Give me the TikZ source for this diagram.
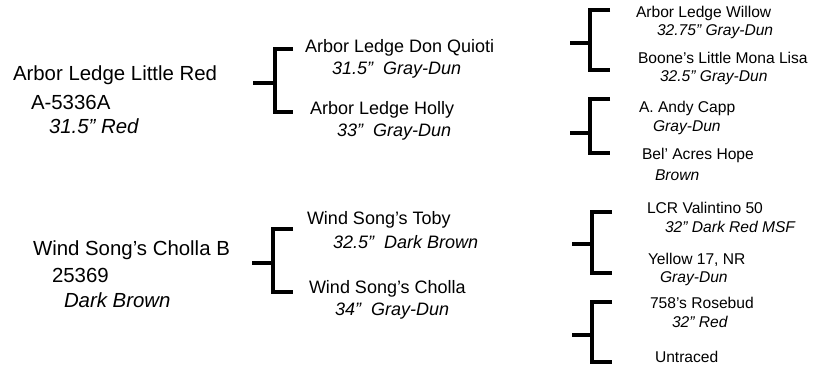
\documentclass[tikz,border=0pt]{standalone}
\usepackage{fontspec}
\setmainfont{Liberation Sans}
\begin{document}
\begin{tikzpicture}[x=1pt,y=-1pt,
  lbl/.style={anchor=west,inner sep=0pt,outer sep=0pt},
  g0/.style={lbl,font=\fontsize{20.4}{22}\selectfont},
  g1/.style={lbl,font=\fontsize{18}{20}\selectfont},
  g2/.style={lbl,font=\fontsize{15.6}{17}\selectfont},
  brk/.style={line width=3.6pt,line cap=butt,line join=miter}]
\useasboundingbox (0,0) rectangle (813,366);
% generation 0
\node[g0] (s0) at (13,75) {Arbor Ledge Little Red};
\node[g0] (s0r) at (31,102) {A-5336A};
\node[g0] (s0c) at (49,126) {\itshape 31.5" Red};
\node[g0] (d0) at (33,250) {Wind Song's Cholla B};
\node[g0] (d0r) at (52,275) {25369};
\node[g0] (d0c) at (64,300) {\itshape Dark Brown};
% generation 1
\node[g1] (ss) at (305,48) {Arbor Ledge Don Quioti};
\node[g1] (ssc) at (332,70) {\itshape 31.5"\ \ Gray-Dun};
\node[g1] (sd) at (310,110) {Arbor Ledge Holly};
\node[g1] (sdc) at (337,132) {\itshape 33"\ \ Gray-Dun};
\node[g1] (ds) at (307,220) {Wind Song's Toby};
\node[g1] (dsc) at (333,242) {\itshape 32.5"\ \ Dark Brown};
\node[g1] (dd) at (309,289) {Wind Song's Cholla};
\node[g1] (ddc) at (335,311) {\itshape 34"\ \ Gray-Dun};
% generation 2
\node[g2] (sss) at (636,13) {Arbor Ledge Willow};
\node[g2] (sssc) at (657,32) {\itshape 32.75" Gray-Dun};
\node[g2] (ssd) at (638,58) {Boone's Little Mona Lisa};
\node[g2] (ssdc) at (660,78) {\itshape 32.5" Gray-Dun};
\node[g2] (sds) at (639,108) {A. Andy Capp};
\node[g2] (sdsc) at (653,128) {\itshape Gray-Dun};
\node[g2] (sdd) at (642,155) {Bel' Acres Hope};
\node[g2] (sddc) at (655,175) {\itshape Brown};
\node[g2] (dss) at (647,208) {LCR Valintino 50};
\node[g2] (dssc) at (665,227) {\itshape 32" Dark Red MSF};
\node[g2] (dsd) at (648,260) {Yellow 17, NR};
\node[g2] (dsdc) at (660,279) {\itshape Gray-Dun};
\node[g2] (dds) at (650,303) {758's Rosebud};
\node[g2] (ddsc) at (672,322) {\itshape 32" Red};
\node[g2] (ddd) at (655,357) {Untraced};
% bracket coordinates
\coordinate (a1) at (253,83);  \coordinate (a1t) at (293,49);  \coordinate (a1b) at (293,112);
\coordinate (a2) at (252,263); \coordinate (a2t) at (293,229); \coordinate (a2b) at (293,292);
\coordinate (b1) at (570,43);  \coordinate (b1t) at (610,10);  \coordinate (b1b) at (610,70);
\coordinate (b2) at (570,133); \coordinate (b2t) at (610,99);  \coordinate (b2b) at (610,153);
\coordinate (b3) at (572,244); \coordinate (b3t) at (612,212); \coordinate (b3b) at (612,273);
\coordinate (b4) at (572,335); \coordinate (b4t) at (612,302); \coordinate (b4b) at (612,362);
% brackets
\draw[brk] (a1) -- (275,83);
\draw[brk] (a1t) -| (275,112) -- (a1b);
\draw[brk] (a2) -- (273,263);
\draw[brk] (a2t) -| (273,292) -- (a2b);
\draw[brk] (b1) -- (590,43);
\draw[brk] (b1t) -| (590,70) -- (b1b);
\draw[brk] (b2) -- (590,133);
\draw[brk] (b2t) -| (590,153) -- (b2b);
\draw[brk] (b3) -- (592,244);
\draw[brk] (b3t) -| (592,273) -- (b3b);
\draw[brk] (b4) -- (592,335);
\draw[brk] (b4t) -| (592,362) -- (b4b);
\end{tikzpicture}
\end{document}
